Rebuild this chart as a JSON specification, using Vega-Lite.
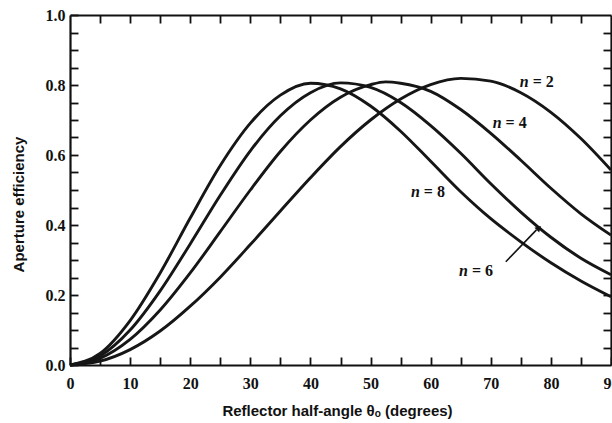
{
  "$schema": "https://vega.github.io/schema/vega-lite/v6.json",
  "width": 541,
  "height": 350,
  "autosize": {"type": "none"},
  "padding": {"left": 70, "top": 15, "right": 1, "bottom": 58},
  "background": "white",
  "config": {
    "view": {"stroke": null},
    "axis": {
      "grid": false,
      "domainColor": "#111",
      "domainWidth": 2.2,
      "tickColor": "#111",
      "tickWidth": 1.8,
      "labelFont": "Liberation Serif",
      "labelFontWeight": "bold",
      "labelFontSize": 16,
      "labelColor": "#111",
      "titleFont": "Liberation Sans",
      "titleFontWeight": "bold",
      "titleFontSize": 15,
      "titleColor": "#111"
    }
  },
  "datasets": {
    "curves": [
      {"n": "2", "theta": 0, "eff": 0}, {"n": "2", "theta": 5, "eff": 0.011}, {"n": "2", "theta": 10, "eff": 0.044}, {"n": "2", "theta": 15, "eff": 0.097}, {"n": "2", "theta": 20, "eff": 0.168}, {"n": "2", "theta": 25, "eff": 0.251}, {"n": "2", "theta": 30, "eff": 0.344}, {"n": "2", "theta": 35, "eff": 0.44}, {"n": "2", "theta": 40, "eff": 0.535}, {"n": "2", "theta": 45, "eff": 0.624}, {"n": "2", "theta": 50, "eff": 0.7}, {"n": "2", "theta": 55, "eff": 0.76}, {"n": "2", "theta": 60, "eff": 0.801}, {"n": "2", "theta": 65, "eff": 0.819}, {"n": "2", "theta": 70, "eff": 0.811}, {"n": "2", "theta": 75, "eff": 0.778}, {"n": "2", "theta": 80, "eff": 0.722}, {"n": "2", "theta": 85, "eff": 0.647}, {"n": "2", "theta": 90, "eff": 0.557},
      {"n": "4", "theta": 0, "eff": 0}, {"n": "4", "theta": 5, "eff": 0.019}, {"n": "4", "theta": 10, "eff": 0.073}, {"n": "4", "theta": 15, "eff": 0.157}, {"n": "4", "theta": 20, "eff": 0.263}, {"n": "4", "theta": 25, "eff": 0.381}, {"n": "4", "theta": 30, "eff": 0.5}, {"n": "4", "theta": 35, "eff": 0.61}, {"n": "4", "theta": 40, "eff": 0.7}, {"n": "4", "theta": 45, "eff": 0.765}, {"n": "4", "theta": 50, "eff": 0.801}, {"n": "4", "theta": 52.5, "eff": 0.809}, {"n": "4", "theta": 55, "eff": 0.805}, {"n": "4", "theta": 60, "eff": 0.782}, {"n": "4", "theta": 65, "eff": 0.73}, {"n": "4", "theta": 70, "eff": 0.662}, {"n": "4", "theta": 75, "eff": 0.585}, {"n": "4", "theta": 80, "eff": 0.505}, {"n": "4", "theta": 85, "eff": 0.432}, {"n": "4", "theta": 90, "eff": 0.371},
      {"n": "6", "theta": 0, "eff": 0}, {"n": "6", "theta": 5, "eff": 0.026}, {"n": "6", "theta": 10, "eff": 0.1}, {"n": "6", "theta": 15, "eff": 0.212}, {"n": "6", "theta": 20, "eff": 0.346}, {"n": "6", "theta": 25, "eff": 0.485}, {"n": "6", "theta": 30, "eff": 0.612}, {"n": "6", "theta": 35, "eff": 0.712}, {"n": "6", "theta": 40, "eff": 0.778}, {"n": "6", "theta": 45, "eff": 0.806}, {"n": "6", "theta": 50, "eff": 0.793}, {"n": "6", "theta": 55, "eff": 0.75}, {"n": "6", "theta": 60, "eff": 0.684}, {"n": "6", "theta": 65, "eff": 0.605}, {"n": "6", "theta": 70, "eff": 0.518}, {"n": "6", "theta": 75, "eff": 0.437}, {"n": "6", "theta": 80, "eff": 0.365}, {"n": "6", "theta": 85, "eff": 0.305}, {"n": "6", "theta": 90, "eff": 0.258},
      {"n": "8", "theta": 0, "eff": 0}, {"n": "8", "theta": 5, "eff": 0.033}, {"n": "8", "theta": 10, "eff": 0.127}, {"n": "8", "theta": 15, "eff": 0.263}, {"n": "8", "theta": 20, "eff": 0.42}, {"n": "8", "theta": 25, "eff": 0.57}, {"n": "8", "theta": 30, "eff": 0.691}, {"n": "8", "theta": 35, "eff": 0.771}, {"n": "8", "theta": 40, "eff": 0.805}, {"n": "8", "theta": 45, "eff": 0.789}, {"n": "8", "theta": 50, "eff": 0.74}, {"n": "8", "theta": 55, "eff": 0.668}, {"n": "8", "theta": 60, "eff": 0.582}, {"n": "8", "theta": 65, "eff": 0.495}, {"n": "8", "theta": 70, "eff": 0.418}, {"n": "8", "theta": 75, "eff": 0.352}, {"n": "8", "theta": 80, "eff": 0.292}, {"n": "8", "theta": 85, "eff": 0.24}, {"n": "8", "theta": 90, "eff": 0.195}
    ],
    "labels": [
      {"n": "2", "eq": "= 2", "theta": 76.8, "eff": 0.809},
      {"n": "4", "eq": "= 4", "theta": 72.3, "eff": 0.691},
      {"n": "8", "eq": "= 8", "theta": 58.7, "eff": 0.493},
      {"n": "6", "eq": "= 6", "theta": 66.7, "eff": 0.269}
    ],
    "arrow": [
      {"theta": 72.5, "eff": 0.295, "theta2": 77.6, "eff2": 0.386}
    ],
    "tip": [
      {"theta": 78.0, "eff": 0.391}
    ]
  },
  "layer": [
    {
      "data": {"name": "curves"},
      "mark": {"type": "line", "interpolate": "monotone", "color": "#161616", "strokeWidth": 2.9},
      "encoding": {
        "x": {
          "field": "theta", "type": "quantitative",
          "scale": {"domain": [0, 90], "nice": false, "zero": false},
          "axis": {
            "orient": "bottom",
            "values": [0, 5, 10, 15, 20, 25, 30, 35, 40, 45, 50, 55, 60, 65, 70, 75, 80, 85, 90],
            "labelExpr": "datum.value % 10 === 0 ? datum.label : ''",
            "format": "d",
            "tickSize": -8,
            "labelPadding": 18,
            "labelFlush": false,
            "labelOverlap": false,
            "title": "Reflector half-angle θₒ (degrees)",
            "titleX": 267,
            "titleY": 45,
            "titleBaseline": "middle"
          }
        },
        "y": {
          "field": "eff", "type": "quantitative",
          "scale": {"domain": [0, 1], "nice": false},
          "axis": {
            "orient": "left",
            "values": [0, 0.05, 0.1, 0.15, 0.2, 0.25, 0.3, 0.35, 0.4, 0.45, 0.5, 0.55, 0.6, 0.65, 0.7, 0.75, 0.8, 0.85, 0.9, 0.95, 1],
            "labelExpr": "round(datum.value * 100) % 20 === 0 ? format(datum.value, '.1f') : ''",
            "tickSize": -8,
            "labelPadding": 13,
            "labelFlush": false,
            "labelOverlap": false,
            "title": "Aperture efficiency",
            "titleX": -52,
            "titleY": 189,
            "titleAngle": -90,
            "titleAlign": "center",
            "titleBaseline": "middle"
          }
        },
        "detail": {"field": "n", "type": "nominal"}
      }
    },
    {
      "data": {"name": "labels"},
      "mark": {"type": "text", "font": "Liberation Serif", "fontSize": 16, "fontWeight": "bold", "align": "left", "baseline": "middle", "dx": 1, "color": "#111"},
      "encoding": {
        "x": {
          "field": "theta", "type": "quantitative",
          "scale": {"domain": [0, 90], "nice": false, "zero": false},
          "axis": {"orient": "top", "values": [5, 10, 15, 20, 25, 30, 35, 40, 45, 50, 55, 60, 65, 70, 75, 80, 85], "labels": false, "tickSize": -8, "title": null}
        },
        "y": {
          "field": "eff", "type": "quantitative",
          "scale": {"domain": [0, 1], "nice": false},
          "axis": {"orient": "right", "values": [0.05, 0.1, 0.15, 0.2, 0.25, 0.3, 0.35, 0.4, 0.45, 0.5, 0.55, 0.6, 0.65, 0.7, 0.75, 0.8, 0.85, 0.9, 0.95], "labels": false, "tickSize": -8, "title": null}
        },
        "text": {"field": "eq", "type": "nominal"}
      }
    },
    {
      "data": {"name": "labels"},
      "mark": {"type": "text", "font": "Liberation Serif", "fontSize": 16, "fontWeight": "bold", "fontStyle": "italic", "align": "right", "baseline": "middle", "dx": -3, "color": "#111"},
      "encoding": {
        "x": {"field": "theta", "type": "quantitative", "axis": null},
        "y": {"field": "eff", "type": "quantitative", "axis": null},
        "text": {"value": "n"}
      }
    },
    {
      "data": {"name": "arrow"},
      "mark": {"type": "rule", "color": "#111", "strokeWidth": 1.6},
      "encoding": {
        "x": {"field": "theta", "type": "quantitative", "axis": null},
        "y": {"field": "eff", "type": "quantitative", "axis": null},
        "x2": {"field": "theta2"},
        "y2": {"field": "eff2"}
      }
    },
    {
      "data": {"name": "tip"},
      "mark": {"type": "point", "shape": "triangle-up", "filled": true, "color": "#111", "size": 45, "angle": 45, "opacity": 1},
      "encoding": {
        "x": {"field": "theta", "type": "quantitative", "axis": null},
        "y": {"field": "eff", "type": "quantitative", "axis": null}
      }
    }
  ],
  "resolve": {"axis": {"x": "independent", "y": "independent"}}
}
